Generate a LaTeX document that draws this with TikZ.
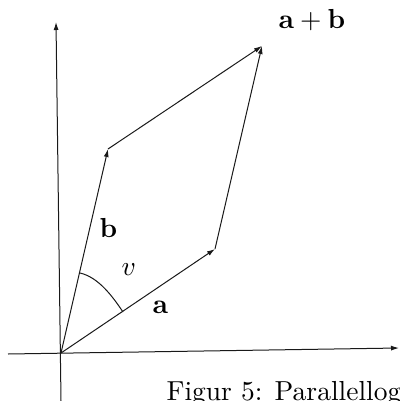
\documentclass[tikz,border=0pt]{standalone}
\usetikzlibrary{arrows.meta}
\begin{document}
\begin{tikzpicture}[x=1pt,y=-1pt,
  vec/.style={line width=1pt,draw=black!90,-{Latex[length=8pt,width=5pt]}},
  lbl/.style={inner sep=0pt,anchor=base west,scale=2.75}]
\useasboundingbox (0,0) rectangle (399,401);
\coordinate (O) at (61,353);
\coordinate (A) at (215,249);
\coordinate (B) at (108,149);
\coordinate (S) at (262,46);
\coordinate (xl) at (8,354);
\coordinate (xr) at (399,348);
\coordinate (yb) at (61,401);
\coordinate (yt) at (56,22);
\coordinate (arcA) at (123,312);
\coordinate (arcB) at (80,273);
\draw[vec] (xl) -- (xr);
\draw[vec] (yb) -- (yt);
\draw[vec] (O) -- (A);
\draw[vec] (O) -- (B);
\draw[vec] (B) -- (S);
\draw[vec] (A) -- (S);
\draw[line width=1pt,black!90] (arcA) .. controls (112.4,296.2) and (98.5,277.3) .. (arcB);
\node[lbl] (lab) at (278,29) {$\mathbf{a}+\mathbf{b}$};
\node[lbl] (lb) at (99,237) {$\mathbf{b}$};
\node[lbl] (lv) at (121,275) {$v$};
\node[lbl] (la) at (152,313) {$\mathbf{a}$};
\node[lbl] (cap) at (166,400) {Figur 5: Parallellogram};
\end{tikzpicture}
\end{document}
